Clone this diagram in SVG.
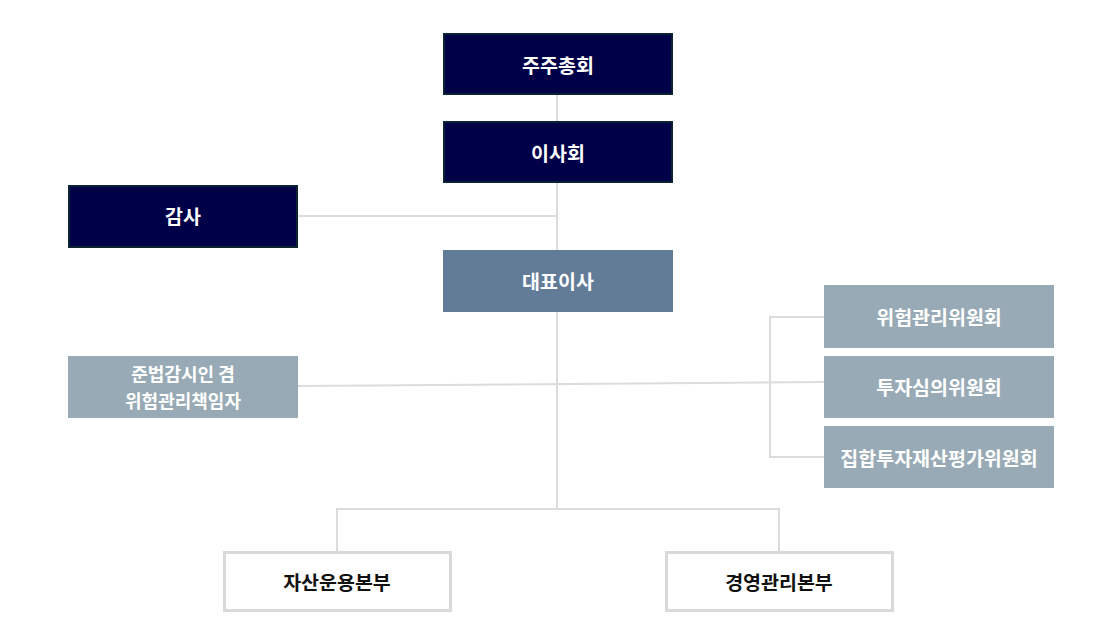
<svg xmlns="http://www.w3.org/2000/svg" width="1118" height="629" viewBox="0 0 1118 629">
<style>
.t{font-family:"Noto Sans CJK KR","Noto Sans",sans-serif;font-weight:bold;font-size:19.5px;text-anchor:middle;dominant-baseline:central}
.s{font-size:18px}
.w{fill:#ffffff}
.k{fill:#111111}
.dark{fill:#000048;stroke:#0b2233;stroke-width:2}
.mid{fill:#627c98}
.lite{fill:#98aab5}
.box{fill:#ffffff;stroke:#d9d9d9;stroke-width:3}
.ln{stroke:#dcdcdc;stroke-width:2;fill:none}
</style>
<rect width="1118" height="629" fill="#ffffff"/>
<g id="connectors">
<line class="ln" x1="557" y1="94" x2="557" y2="121"/>
<line class="ln" x1="557" y1="182" x2="557" y2="250"/>
<line class="ln" x1="297" y1="216" x2="557" y2="216"/>
<line class="ln" x1="557" y1="311" x2="557" y2="509"/>
<line class="ln" x1="297" y1="386" x2="824" y2="382"/>
<polyline class="ln" points="824,317 770,317 770,457 824,457"/>
<polyline class="ln" points="337,552 337,509 779,509 779,552"/>
</g>
<g id="n1"><rect class="dark" x="444" y="34" width="228" height="60"/><text class="t w" x="558" y="64">주주총회</text></g>
<g id="n2"><rect class="dark" x="444" y="122" width="228" height="60"/><text class="t w" x="558" y="152">이사회</text></g>
<g id="n3"><rect class="dark" x="69" y="186" width="228" height="61"/><text class="t w" x="183" y="215">감사</text></g>
<g id="n4"><rect class="mid" x="443" y="250" width="230" height="62"/><text class="t w" x="558" y="280">대표이사</text></g>
<g id="n5"><rect class="lite" x="68" y="356" width="230" height="62"/><text class="t w s" x="183" y="373">준법감시인 겸</text><text class="t w s" x="183" y="400">위험관리책임자</text></g>
<g id="n6"><rect class="lite" x="824" y="285" width="230" height="63"/><text class="t w" x="939" y="316">위험관리위원회</text></g>
<g id="n7"><rect class="lite" x="824" y="356" width="230" height="62"/><text class="t w" x="939" y="386">투자심의위원회</text></g>
<g id="n8"><rect class="lite" x="824" y="426" width="230" height="62"/><text class="t w" x="939" y="457">집합투자재산평가위원회</text></g>
<g id="n9"><rect class="box" x="224.5" y="552.5" width="226" height="58"/><text class="t k" x="337" y="581">자산운용본부</text></g>
<g id="n10"><rect class="box" x="666.5" y="552.5" width="226" height="58"/><text class="t k" x="779" y="581">경영관리본부</text></g>
</svg>
